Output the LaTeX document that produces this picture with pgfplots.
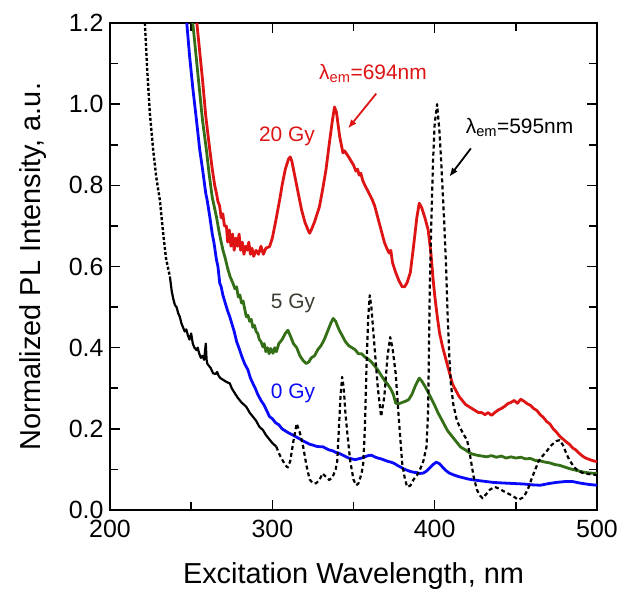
\documentclass[border=0pt]{standalone}
\usepackage{fontspec}
\setmainfont{Liberation Sans}
\usepackage{pgfplots}
\pgfplotsset{compat=1.18}
\usetikzlibrary{arrows.meta}
\definecolor{cred}{RGB}{222,20,20}
\definecolor{cgreen}{RGB}{52,110,22}
\definecolor{cblue}{RGB}{10,10,250}
\definecolor{cgray}{RGB}{60,60,50}
\begin{document}
\begin{tikzpicture}
\path[use as bounding box] (-110bp,-81bp) rectangle (523bp,510bp);
\begin{axis}[
  at={(0,0)}, anchor=south west,
  scale only axis, width=487bp, height=487bp,
  xmin=200, xmax=500, ymin=0, ymax=1.2,
  xtick={200,300,400,500}, minor xtick={250,350,450},
  ytick={0,0.2,0.4,0.6,0.8,1.0,1.2}, minor ytick={0.1,0.3,0.5,0.7,0.9,1.1},
  yticklabel style={/pgf/number format/fixed, /pgf/number format/fixed zerofill, /pgf/number format/precision=1, xshift=-3bp},
  xticklabel style={yshift=-7bp},
  /pgf/number format/assume math mode=true,
  tick align=inside,
  major tick length=10bp, minor tick length=8bp,
  every tick/.style={black, line width=1.6bp},
  axis line style={line width=2.2bp},
  ticklabel style={font=\fontsize{25}{30}\selectfont},
  xlabel={Excitation Wavelength, nm},
  ylabel={Normalized PL Intensity, a.u.},
  xlabel style={at={(axis description cs:0.5,-0.1499)}, anchor=base, font=\fontsize{29}{34}\selectfont},
  ylabel style={at={(axis description cs:-0.1417,0.5)}, anchor=base, rotate=0, font=\fontsize{29}{34}\selectfont},
  clip=true,
]
% 20 Gy
\addplot[cred, line width=2.8bp, line join=round] coordinates {
(253.5,1.20)(255,1.14)(257,1.06)(259,0.97)(261.5,0.887)(263,0.84)(264.5,0.80)(265.6,0.78)(266.5,0.76)(267.5,0.75)(268.5,0.72)(269.5,0.73)(270.5,0.70)(271.7,0.70)(272.5,0.66)(273.5,0.69)(274.5,0.65)(275.5,0.68)(276.5,0.64)(277.5,0.67)(278.5,0.65)(279.5,0.68)(280.5,0.64)(281.5,0.66)(282.5,0.63)(283.5,0.65)(284.5,0.64)(285.5,0.66)(286.5,0.63)(287.5,0.645)(288.5,0.625)(290,0.64)(291.5,0.63)(293,0.65)(294.5,0.63)(296,0.645)(298.3,0.649)(300,0.67)(302,0.71)(304.5,0.764)(306,0.80)(308,0.84)(310,0.865)(311,0.87)(312,0.86)(314,0.82)(316,0.78)(318,0.74)(320,0.71)(322,0.69)(323,0.682)(324,0.69)(326,0.71)(329,0.747)(331,0.79)(333,0.837)(335,0.90)(337,0.96)(338.3,0.993)(339.5,0.98)(340.5,0.95)(341.5,0.92)(342.5,0.90)(343.5,0.88)(344.5,0.885)(345.5,0.879)(347,0.87)(348.5,0.86)(350,0.85)(351.5,0.835)(352.5,0.84)(353.5,0.825)(354.5,0.83)(355.6,0.813)(357,0.80)(359,0.785)(361.7,0.763)(363,0.75)(365,0.72)(367,0.69)(369,0.66)(370.5,0.645)(372,0.633)(373,0.64)(374,0.61)(376,0.585)(378,0.565)(380,0.55)(381.5,0.55)(383,0.56)(385,0.585)(387,0.65)(389,0.72)(390.5,0.756)(392,0.745)(394,0.72)(396,0.69)(397.7,0.633)(399,0.57)(400,0.53)(401.5,0.48)(403,0.436)(405,0.40)(407,0.37)(409,0.34)(411,0.31)(413,0.295)(415,0.28)(417,0.27)(419,0.26)(421,0.255)(423,0.25)(425,0.245)(427,0.24)(429,0.24)(431,0.235)(433,0.24)(435,0.233)(437,0.24)(439,0.246)(441,0.25)(443,0.255)(445,0.262)(447,0.265)(449,0.27)(451,0.263)(453,0.273)(455,0.268)(457,0.262)(459,0.258)(461,0.25)(463,0.245)(465,0.235)(467,0.228)(469,0.218)(471,0.212)(473,0.20)(475,0.192)(477,0.182)(479,0.175)(481,0.168)(483,0.162)(485,0.153)(487,0.148)(489,0.14)(491,0.133)(493,0.128)(495,0.125)(497,0.122)(500,0.119)
};
% 5 Gy
\addplot[cgreen, line width=2.8bp, line join=round] coordinates {
(251,1.20)(253,1.12)(255,1.04)(257,0.96)(259.4,0.887)(261,0.83)(263,0.77)(265.6,0.722)(267,0.69)(268.5,0.66)(269.6,0.64)(271,0.62)(272.5,0.595)(274,0.575)(275.8,0.558)(277,0.545)(278,0.55)(279,0.525)(280,0.53)(281,0.51)(282,0.515)(283,0.495)(284,0.476)(285,0.48)(286,0.465)(287,0.47)(288,0.45)(289,0.455)(290,0.44)(291,0.435)(292,0.42)(293,0.415)(294.2,0.402)(295,0.41)(296,0.39)(297,0.40)(298,0.385)(299,0.398)(300.4,0.386)(301.5,0.40)(302.5,0.39)(304,0.41)(306,0.42)(308,0.435)(309.6,0.443)(311,0.43)(313,0.41)(315,0.40)(317,0.38)(319,0.368)(320.9,0.361)(322.5,0.365)(324,0.375)(326,0.38)(328,0.395)(330,0.405)(332,0.42)(334,0.44)(336,0.46)(337.5,0.472)(339,0.465)(341,0.445)(343,0.43)(345,0.415)(347,0.405)(349,0.40)(351,0.395)(353,0.385)(355,0.385)(357,0.377)(359,0.372)(361,0.365)(363,0.355)(365,0.345)(367,0.332)(369,0.32)(371,0.31)(373,0.298)(374.5,0.285)(376,0.263)(378,0.262)(380,0.265)(382,0.268)(384,0.272)(386,0.285)(388,0.305)(390.5,0.325)(392,0.318)(394,0.305)(396,0.29)(398.5,0.27)(400,0.258)(402,0.24)(404,0.225)(406,0.21)(408,0.195)(410,0.185)(412,0.175)(414,0.165)(416,0.155)(419,0.148)(421,0.142)(423,0.138)(426,0.135)(429,0.133)(432,0.131)(435,0.134)(438,0.13)(441,0.133)(444,0.128)(447,0.131)(450,0.128)(453,0.13)(456,0.126)(459,0.127)(462,0.122)(465,0.121)(468,0.118)(471,0.116)(474,0.112)(477,0.11)(480,0.106)(483,0.102)(486,0.099)(489,0.096)(492,0.093)(496,0.091)(500,0.09)
};
% 0 Gy
\addplot[cblue, line width=2.8bp, line join=round] coordinates {
(247.3,1.20)(249,1.12)(251,1.04)(253,0.97)(255.3,0.887)(257,0.84)(259,0.78)(260,0.76)(261.5,0.722)(263,0.68)(264,0.66)(265.6,0.616)(266.5,0.60)(267.6,0.559)(268.5,0.55)(269.5,0.53)(271,0.51)(272.5,0.49)(273.8,0.476)(275,0.46)(276.5,0.44)(278,0.415)(279.9,0.394)(281.5,0.375)(283,0.36)(285,0.345)(286.5,0.325)(288,0.312)(289.5,0.30)(291,0.285)(293,0.27)(295,0.258)(296.5,0.245)(298.3,0.23)(300,0.225)(302,0.215)(304,0.21)(306,0.20)(308,0.195)(310,0.19)(312,0.186)(314.7,0.18)(317,0.175)(319,0.17)(321,0.166)(323,0.162)(325,0.16)(327,0.157)(329,0.156)(331,0.156)(333,0.152)(335,0.148)(337,0.146)(339,0.142)(341,0.14)(343,0.136)(345,0.132)(347,0.128)(349,0.126)(351,0.124)(353,0.126)(355,0.128)(357,0.131)(359,0.134)(361,0.135)(363,0.131)(365,0.128)(367,0.126)(369,0.123)(371,0.12)(373,0.118)(375,0.115)(377,0.11)(379,0.106)(381,0.101)(383,0.098)(385,0.095)(387,0.093)(389,0.092)(391,0.09)(393,0.091)(395,0.096)(397,0.104)(399,0.112)(401,0.118)(403,0.114)(405,0.105)(407,0.097)(409,0.091)(412,0.086)(415,0.082)(418,0.079)(421,0.076)(424,0.074)(428,0.072)(432,0.07)(436,0.068)(440,0.067)(445,0.066)(450,0.065)(455,0.064)(460,0.062)(465,0.061)(470,0.065)(475,0.068)(480,0.07)(485,0.07)(490,0.066)(495,0.063)(500,0.061)
};
% lambda_em = 595 nm, steep top part
\addplot[black, line width=2.4bp, dash pattern=on 3bp off 2bp] coordinates {
(221.5,1.20)(223,1.08)(224.5,0.98)(226.6,0.887)(228.5,0.82)(230.7,0.764)(232.8,0.68)(234.5,0.62)(236.9,0.575)
};
\addplot[black, line width=2.2bp, line join=round] coordinates {
(236.9,0.575)(238,0.54)(239,0.52)(240,0.505)(241,0.50)(242,0.485)(243,0.476)(244,0.46)(245,0.45)(246,0.44)(247,0.445)(248,0.43)(249,0.42)(250,0.435)(251,0.41)(252,0.40)(253.3,0.394)(254,0.40)(255,0.385)(256,0.375)(257,0.38)(258,0.37)(259,0.41)(259.5,0.37)(260,0.36)(261,0.355)(262,0.35)(263.5,0.337)(265,0.335)(266,0.34)(267,0.33)(268,0.325)(270,0.32)(272,0.315)(273.8,0.312)(275,0.30)(277,0.287)(279,0.275)(281,0.265)(283,0.258)(284,0.254)(286,0.24)(288,0.23)(290,0.22)(292,0.205)(294.2,0.197)(296,0.185)(298,0.175)(300,0.165)(302.5,0.156)
};
\addplot[black, line width=2.2bp, dash pattern=on 4bp off 3bp, line join=round] coordinates {
(302.5,0.156)(304,0.14)(306,0.125)(308,0.11)(309.5,0.105)(311,0.12)(313,0.17)(315,0.213)(317,0.19)(319,0.156)(321,0.11)(323,0.075)(325,0.066)(327,0.066)(329,0.074)(331,0.09)(333,0.082)(335,0.074)(337,0.08)(339,0.10)(340,0.12)(341,0.20)(342,0.28)(343,0.328)(344,0.30)(345,0.24)(346,0.197)(348,0.12)(350,0.075)(351.6,0.061)(353,0.065)(355,0.09)(356,0.115)(357,0.20)(358,0.35)(359,0.47)(360,0.529)(361,0.50)(362,0.45)(363,0.40)(365,0.30)(367,0.23)(369,0.28)(371,0.38)(372.6,0.426)(374,0.40)(376,0.336)(378,0.22)(380,0.115)(381.5,0.08)(383,0.057)(385,0.06)(387,0.075)(389,0.085)(391,0.10)(393,0.12)(395,0.156)(396,0.25)(397,0.55)(398,0.72)(399,0.86)(400,0.95)(401.5,1.00)(403,0.93)(404,0.86)(405,0.78)(406,0.70)(407,0.60)(408,0.48)(409,0.38)(410,0.31)(411.5,0.26)(413.7,0.22)(416,0.20)(418,0.185)(420,0.172)(422,0.13)(424,0.082)(426,0.05)(428,0.035)(429.5,0.029)(432,0.04)(434,0.05)(437,0.057)(440,0.052)(443,0.045)(445,0.041)(448,0.035)(451.6,0.025)(454,0.03)(456,0.04)(458,0.057)(460,0.08)(462,0.10)(464,0.12)(466,0.131)(468,0.14)(470,0.15)(472,0.16)(475,0.17)(477,0.172)(479,0.16)(481,0.14)(483,0.123)(486,0.105)(489,0.095)(492,0.09)(496,0.088)(500,0.086)
};
% annotations
\node[cred, font=\fontsize{21}{25}\selectfont] at (axis cs:309,0.92) {20 Gy};
\node[cgray, font=\fontsize{21}{25}\selectfont] at (axis cs:312.7,0.509) {5 Gy};
\node[cblue, font=\fontsize{21}{25}\selectfont] at (axis cs:312.7,0.287) {0 Gy};
\node[cred, font=\fontsize{21}{25}\selectfont] at (axis cs:362,1.075) {λ\textsubscript{em}=694nm};
\node[black, font=\fontsize{21}{25}\selectfont] at (axis cs:452.3,0.942) {λ\textsubscript{em}=595nm};
\draw[cred, line width=1.8bp, -{Latex[length=9bp,width=7bp]}] (axis cs:364,1.026) -- (axis cs:346.6,0.94);
\draw[black, line width=1.8bp, -{Latex[length=9bp,width=7bp]}] (axis cs:422.3,0.891) -- (axis cs:409,0.821);
\end{axis}
\end{tikzpicture}
\end{document}
